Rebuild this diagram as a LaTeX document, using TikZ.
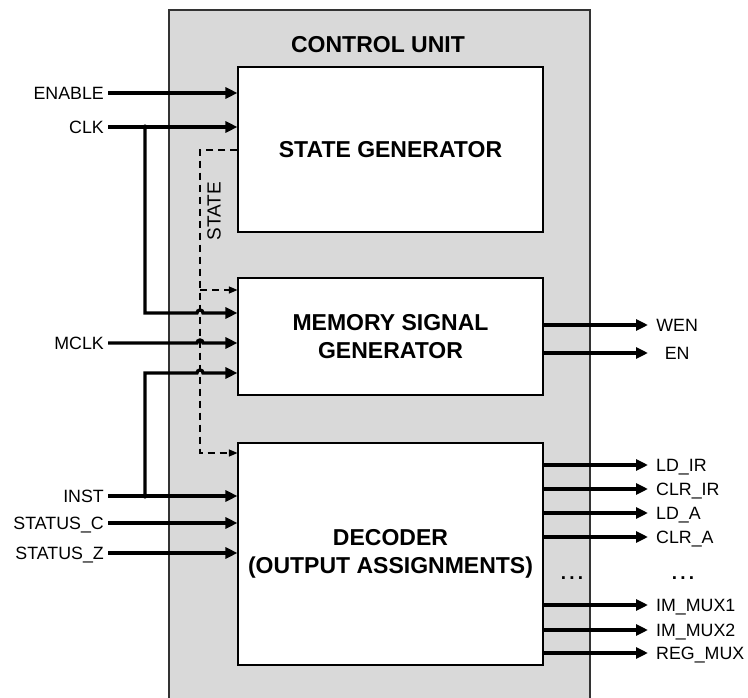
\documentclass[tikz,border=0pt]{standalone}
\usepackage{fontspec}
\setmainfont{Liberation Sans}
\usetikzlibrary{arrows.meta, positioning, calc}

\tikzset{
  blockbox/.style={draw, fill=white, line width=1.1pt, inner sep=0pt, align=center,
    font=\fontsize{23}{27.5}\selectfont\bfseries},
  sigline/.style={line width=3.3pt, -{Triangle[length=12pt,width=11pt]}},
  statesig/.style={line width=1.2pt, dash pattern=on 7pt off 5pt, -{Triangle[length=8.5pt,width=7pt]}},
  inlbl/.style={anchor=east, inner xsep=4pt, inner ysep=0pt, text height=12.7pt, text depth=0pt,
    font=\fontsize{17.8}{20}\selectfont},
  outlbl/.style={anchor=west, inner xsep=8pt, inner ysep=0pt, text height=12.7pt, text depth=0pt,
    font=\fontsize{17.8}{20}\selectfont},
  dotlbl/.style={anchor=base, font=\fontsize{19}{20}\selectfont\bfseries},
}

\begin{document}
\begin{tikzpicture}[x=1pt, y=-1pt]
  \useasboundingbox (0,0) rectangle (748,698);

  % control unit frame
  \fill[gray!30] (169,10) rectangle (590,698);
  \draw[line width=1.4pt, black!80] (169,698) -- (169,10) -- (590,10) -- (590,698);
  \node[font=\fontsize{23}{27}\selectfont\bfseries] (cutitle) at (378,45) {CONTROL UNIT};

  % blocks
  \node[blockbox, minimum width=305pt, minimum height=165pt] (sg) at (390.5,149.5) {STATE GENERATOR};
  \node[blockbox, minimum width=305pt, minimum height=117pt] (msg) at (390.5,336.5) {MEMORY SIGNAL\\GENERATOR};
  \node[blockbox, minimum width=305pt, minimum height=222pt] (dec) at (390.5,554) {DECODER\\(OUTPUT ASSIGNMENTS)};

  % inputs
  \node[inlbl] (enable) at (108,93) {ENABLE};
  \node[inlbl] (clk) at (108,127) {CLK};
  \node[inlbl] (mclk) at (108,343) {MCLK};
  \node[inlbl] (inst) at (108,496) {INST};
  \node[inlbl] (statc) at (108,523) {STATUS\_C};
  \node[inlbl] (statz) at (108,553) {STATUS\_Z};
  \coordinate (clkjoin) at (145,127);
  \coordinate (instjoin) at (145,496);

  % state bus (dashed)
  \draw[statesig] (sg.west |- 0,150) -| (200,453) -- (dec.west |- 0,453);
  \draw[statesig] (200,290) -- (msg.west |- 0,290);
  \node[rotate=90, font=\fontsize{19}{20}\selectfont] (statelbl) at (214,211) {STATE};

  \draw[sigline] (enable.east) -- (enable.east -| sg.west);
  \draw[sigline] (clk.east) -- (clk.east -| sg.west);
  \draw[sigline] (clkjoin) |- (197,313) arc[start angle=180, end angle=360, radius=3] -- (msg.west |- 0,313);
  \draw[sigline] (mclk.east) -- (197,343) arc[start angle=180, end angle=360, radius=3] -- (msg.west |- 0,343);
  \draw[sigline] (instjoin) |- (197,373) arc[start angle=180, end angle=360, radius=3] -- (msg.west |- 0,373);
  \draw[sigline] (inst.east) -- (inst.east -| dec.west);
  \draw[sigline] (statc.east) -- (statc.east -| dec.west);
  \draw[sigline] (statz.east) -- (statz.east -| dec.west);
  \fill (clkjoin) circle (2.6);
  \fill (instjoin) circle (2.6);

  % outputs
  \node[outlbl, minimum width=58pt] (wen) at (648,325) {WEN};
  \node[outlbl, minimum width=58pt] (en) at (648,353) {EN};
  \draw[sigline] (msg.east |- wen) -- (wen.west);
  \draw[sigline] (msg.east |- en) -- (en.west);

  \foreach \yy/\txt/\nm in {465/LD\_IR/ldir, 489/CLR\_IR/clrir, 513/LD\_A/lda, 537/CLR\_A/clra,
      605/IM\_MUX1/immuxa, 630/IM\_MUX2/immuxb, 653/REG\_MUX/regmux} {
    \node[outlbl] (\nm) at (648,\yy) {\txt};
    \draw[sigline] (dec.east |- \nm) -- (\nm.west);
  }
  \node[dotlbl] (dotsin) at (572,579) {.\,.\,.};
  \node[dotlbl] (dotsout) at (683,579) {.\,.\,.};
\end{tikzpicture}
\end{document}
